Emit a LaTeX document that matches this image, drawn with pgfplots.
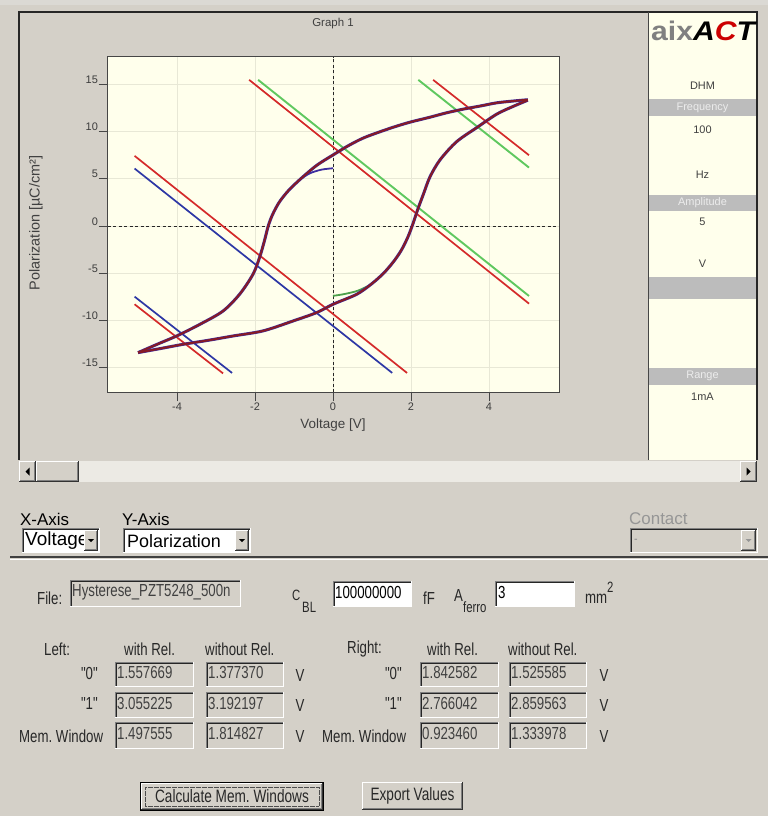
\documentclass[border=0pt]{standalone}
\usepackage{pgfplots}
\usepackage{pgfplotstable}
\pgfplotsset{compat=1.18}
\usepackage{fontspec}
\setmainfont{Liberation Sans}
\newfontfamily\uif[FakeStretch=0.76]{Liberation Sans}
\newfontfamily\uiw{Liberation Sans}
\newfontfamily\logof[FakeStretch=1.12]{Liberation Sans}
\definecolor{winbg}{RGB}{212,208,200}
\definecolor{cream}{RGB}{255,255,236}
\definecolor{gridc}{RGB}{232,232,214}
\definecolor{framec}{RGB}{70,70,70}
\definecolor{tickc}{RGB}{60,60,60}
\definecolor{lred}{RGB}{212,42,42}
\definecolor{lblue}{RGB}{45,55,165}
\definecolor{lgreen}{RGB}{95,200,95}
\definecolor{loopr}{RGB}{135,26,38}
\definecolor{loopb}{RGB}{60,45,160}
\definecolor{bandc}{RGB}{188,188,188}
\definecolor{bandt}{RGB}{236,236,236}
\definecolor{shadow}{RGB}{128,128,128}
\definecolor{dark}{RGB}{64,64,64}
\definecolor{track}{RGB}{236,234,228}
\definecolor{uitext}{RGB}{40,40,40}
\definecolor{distext}{RGB}{150,150,150}
\newcommand\sunken[5]{%
  \fill[#5] (#1,#2) rectangle (#3,#4);
  \draw[shadow,line width=1bp] (#1+0.5,#4) -- (#1+0.5,#2+0.5) -- (#3,#2+0.5);
  \draw[black!85,line width=1bp] (#1+1.5,#4-1) -- (#1+1.5,#2+1.5) -- (#3-1,#2+1.5);
  \draw[white,line width=1bp] (#1,#4-0.5) -- (#3-0.5,#4-0.5) -- (#3-0.5,#2);
}
\newcommand\raised[4]{%
  \fill[winbg] (#1,#2) rectangle (#3,#4);
  \draw[white,line width=1bp] (#1+0.5,#4-1) -- (#1+0.5,#2+0.5) -- (#3-1,#2+0.5);
  \draw[black!80,line width=1bp] (#1,#4-0.5) -- (#3-0.5,#4-0.5) -- (#3-0.5,#2);
  \draw[shadow,line width=1bp] (#1+1,#4-1.5) -- (#3-1.5,#4-1.5) -- (#3-1.5,#2+1);
}
\newcommand\fs[1]{\fontsize{#1}{#1}\selectfont}
\pgfplotstableread{
x y
5.0 13.35
4.6 13.2
4.2 13.02
3.8 12.7
3.34 12.35
2.9 11.95
2.49 11.5
2.0 11.0
1.63 10.55
1.2 9.95
0.78 9.3
0.4 8.5
0.0 7.5
-0.42 6.4
-0.85 4.9
-1.15 3.7
-1.38 2.5
-1.55 1.2
-1.66 0.0
-1.76 -1.6
-1.88 -3.3
-2.05 -5.1
-2.39 -7.2
-2.82 -9.0
-3.41 -10.4
-4.01 -11.64
-4.5 -12.5
-5.0 -13.4
}\upbranch
\pgfplotstableread{
x y
-5.0 -13.4
-4.4 -12.95
-3.84 -12.52
-3.2 -12.1
-2.56 -11.64
-1.79 -11.1
-1.02 -10.05
-0.42 -9.17
0.0 -8.29
0.61 -7.23
1.0 -6.1
1.3 -5.0
1.55 -3.8
1.75 -2.6
1.92 -1.2
2.05 0.2
2.18 1.8
2.32 3.35
2.49 5.2
2.75 7.0
3.17 8.9
3.69 10.4
4.2 11.82
4.6 12.6
5.0 13.3
}\lowbranch
\begin{document}
\begin{tikzpicture}
\fill[winbg] (0,0) rectangle (768bp,-816bp);
\begin{scope}[x=1bp,y=-1bp]
  \fill[black!8!winbg!60!white] (0,0) rectangle (768,5);
  % graph panel
  \fill[cream] (648,12) rectangle (757,460);
  \draw[black!85,line width=1.2bp] (19,460) -- (19,12) -- (757,12) -- (757,460);
  \draw[framec,line width=1bp] (648,12) -- (648,460);
  % right panel bands
  \fill[bandc] (649,99) rectangle (756,116);
  \fill[bandc] (649,195) rectangle (756,211);
  \fill[bandc] (649,277) rectangle (756,299);
  \fill[bandc] (649,368) rectangle (756,385);
  \node[anchor=west,inner sep=0] at (651,31) {\logof\bfseries\fs{27}{\color{gray}aix}\itshape{\color{black}A}{\color{red!80!black}C}{\color{black}T}};
  \node[font=\uiw\fs{11},text=dark] at (702.5,86) {DHM};
  \node[font=\uiw\fs{11},text=bandt] at (702.5,108) {Frequency};
  \node[font=\uiw\fs{11},text=dark] at (702.5,130) {100};
  \node[font=\uiw\fs{11},text=dark] at (702.5,175) {Hz};
  \node[font=\uiw\fs{11},text=bandt] at (702.5,203) {Amplitude};
  \node[font=\uiw\fs{11},text=dark] at (702.5,222) {5};
  \node[font=\uiw\fs{11},text=dark] at (702.5,264) {V};
  \node[font=\uiw\fs{11},text=bandt] at (702.5,376) {Range};
  \node[font=\uiw\fs{11},text=dark] at (702.5,397) {1mA};
  % scrollbar
  \fill[track] (19,461) rectangle (757,482);
  \raised{19}{461}{36}{482}
  \raised{36}{461}{79}{482}
  \raised{740}{461}{757}{482}
  \fill[black] (25.5,471.5) -- (29.5,467.5) -- (29.5,475.5) -- cycle;
  \fill[black] (750.5,471.5) -- (746.5,467.5) -- (746.5,475.5) -- cycle;
  % axis selectors
  \node[anchor=west,inner sep=0,font=\uiw\fs{17},text=black] at (20,519) {X-Axis};
  \node[anchor=west,inner sep=0,font=\uiw\fs{17},text=black] at (122,519) {Y-Axis};
  \sunken{22}{528}{100}{553}{white}
  \node[anchor=west,inner sep=0,font=\uiw\fs{19},text=black] at (25,541) {Voltage};
  \raised{84}{530}{98}{551}
  \fill[black] (88,539) -- (94,539) -- (91,542) -- cycle;
  \sunken{123}{528}{251}{553}{white}
  \node[anchor=west,inner sep=0,font=\uiw\fs{18},text=black] at (127,541) {Polarization};
  \raised{235}{530}{249}{551}
  \fill[black] (239,539) -- (245,539) -- (242,542) -- cycle;
  \node[anchor=west,inner sep=0,font=\uiw\fs{17},text=distext] at (629,519) {Contact};
  \sunken{630}{528}{758}{553}{winbg}
  \node[anchor=west,inner sep=0,font=\uif\fs{14},text=distext] at (634,541) {-};
  \raised{741}{530}{756}{551}
  \fill[distext] (745.5,539) -- (751.5,539) -- (748.5,542) -- cycle;
  % separator
  \draw[black!75,line width=1.5bp] (10,557) -- (768,557);
  \draw[white,line width=1bp] (10,559) -- (768,559);
  % file row
  \node[anchor=west,inner sep=0,font=\uif\fs{17.5},text=uitext] at (37,598) {File:};
  \sunken{70}{580}{241}{607}{winbg}
  \node[anchor=west,inner sep=0,font=\uif\fs{17.5},text=dark] at (72,592) {Hysterese\_PZT5248\_500n};
  \node[anchor=west,inner sep=0,font=\uif\fs{15},text=uitext] at (292,595) {C};
  \node[anchor=west,inner sep=0,font=\uif\fs{15},text=uitext] at (302,607) {BL};
  \sunken{333}{581}{412}{607}{white}
  \node[anchor=west,inner sep=0,font=\uif\fs{17.5},text=black] at (335,592) {100000000};
  \node[anchor=west,inner sep=0,font=\uif\fs{17.5},text=uitext] at (423,598) {fF};
  \node[anchor=west,inner sep=0,font=\uif\fs{17.5},text=uitext] at (454,596) {A};
  \node[anchor=west,inner sep=0,font=\uif\fs{15},text=uitext] at (463,607) {ferro};
  \sunken{495}{581}{575}{607}{white}
  \node[anchor=west,inner sep=0,font=\uif\fs{17.5},text=black] at (498,592) {3};
  \node[anchor=west,inner sep=0,font=\uif\fs{17.5},text=uitext] at (585,599) {mm};
  \node[anchor=west,inner sep=0,font=\uif\fs{15},text=uitext] at (607,587) {2};
  % table header
  \node[anchor=west,inner sep=0,font=\uif\fs{17.5},text=uitext] at (44,649) {Left:};
  \node[anchor=west,inner sep=0,font=\uif\fs{17.5},text=uitext] at (124,649) {with Rel.};
  \node[anchor=west,inner sep=0,font=\uif\fs{17.5},text=uitext] at (205,649) {without Rel.};
  \node[anchor=west,inner sep=0,font=\uif\fs{17.5},text=uitext] at (347,649) {Right:};
  \node[anchor=west,inner sep=0,font=\uif\fs{17.5},text=uitext] at (427,649) {with Rel.};
  \node[anchor=west,inner sep=0,font=\uif\fs{17.5},text=uitext] at (508,649) {without Rel.};
  % rows
  \foreach \ya/\yb/\yc/\lab/\va/\vb/\vc/\vd in {
      661.7/687.3/674.5/{"0"}/1.557669/1.377370/1.842582/1.525585,
      691.7/718.3/705/{"1"}/3.055225/3.192197/2.766042/2.859563,
      722/749/735.5/{}/1.497555/1.814827/0.923460/1.333978}{
    \sunken{115}{\ya}{194}{\yb}{winbg}
    \sunken{206}{\ya}{284}{\yb}{winbg}
    \sunken{420}{\ya}{499}{\yb}{winbg}
    \sunken{509}{\ya}{587}{\yb}{winbg}
    \node[anchor=west,inner sep=0,font=\uif\fs{17.5},text=dark] at (117,\yc-2) {\va};
    \node[anchor=west,inner sep=0,font=\uif\fs{17.5},text=dark] at (208,\yc-2) {\vb};
    \node[anchor=west,inner sep=0,font=\uif\fs{17.5},text=dark] at (422,\yc-2) {\vc};
    \node[anchor=west,inner sep=0,font=\uif\fs{17.5},text=dark] at (511,\yc-2) {\vd};
    \node[font=\uif\fs{17.5},text=uitext] at (300,\yc+1) {V};
    \node[font=\uif\fs{17.5},text=uitext] at (604,\yc+1) {V};
    \node[anchor=east,inner sep=0,font=\uif\fs{17.5},text=uitext] at (98,\yc-1) {\lab};
    \node[anchor=east,inner sep=0,font=\uif\fs{17.5},text=uitext] at (402,\yc-1) {\lab};
  }
  \node[anchor=west,inner sep=0,font=\uif\fs{17.5},text=uitext] at (19,736) {Mem.\ Window};
  \node[anchor=west,inner sep=0,font=\uif\fs{17.5},text=uitext] at (322,736) {Mem.\ Window};
  % buttons
  \fill[black] (140,782) rectangle (324,811);
  \raised{141}{783}{323}{810}
  \draw[black!70,line width=0.6bp,dash pattern=on 0.6bp off 0.6bp] (145,787) rectangle (319,806);
  \node[font=\uif\fs{18},text=uitext] at (232,796) {Calculate Mem.\ Windows};
  \raised{362}{782}{463}{810}
  \node[font=\uif\fs{18},text=uitext] at (412.5,796) {Export Values};
\end{scope}
\begin{axis}[
  at={(107.7bp,-392.3bp)}, anchor=south west,
  scale only axis, width=451.3bp, height=335.6bp,
  xmin=-5.78, xmax=5.80, ymin=-17.6, ymax=17.9,
  axis background/.style={fill=cream},
  axis line style={draw=framec, line width=0.9bp},
  xtick={-4,-2,0,2,4}, ytick={-15,-10,-5,0,5,10,15},
  xtick pos=bottom, ytick pos=left, tick align=outside,
  major tick length=9bp,
  tick style={draw=framec, line width=0.7bp},
  grid=major, major grid style={draw=gridc, line width=0.7bp},
  ticklabel style={font=\uiw\fs{11}, text=tickc},
  yticklabel style={anchor=south east, inner sep=0.6bp},
  xticklabel style={anchor=north, inner sep=1bp},
  /pgf/number format/assume math mode=true,
]
\addplot[black!85, line width=0.8bp, dash pattern=on 3bp off 2.5bp] coordinates {(-5.78,0) (5.8,0)};
\addplot[black!85, line width=0.8bp, dash pattern=on 3bp off 2.5bp] coordinates {(0,-17.6) (0,17.9)};
% straight lines
\addplot[lred, line width=1.7bp] coordinates {(-5.09,-8.29) (-2.82,-15.6)};
\addplot[lblue, line width=1.7bp] coordinates {(-5.09,-7.48) (-2.59,-15.55)};
\addplot[lred, line width=1.7bp] coordinates {(-5.09,7.41) (1.90,-15.55)};
\addplot[lblue, line width=1.7bp] coordinates {(-5.09,6.07) (1.52,-15.55)};
\addplot[lred, line width=1.7bp] coordinates {(-2.15,15.45) (5.03,-8.22)};
\addplot[lgreen, line width=1.9bp] coordinates {(-1.92,15.45) (5.03,-7.41)};
\addplot[lgreen, line width=1.9bp] coordinates {(2.19,15.45) (5.03,6.17)};
\addplot[lred, line width=1.7bp] coordinates {(2.57,15.45) (5.03,7.48)};
% initial branches
\addplot[loopb, line width=1.8bp, smooth] coordinates {(0,6.1) (-0.3,5.95) (-0.6,5.55) (-0.85,4.9)};
\addplot[lgreen!80!black, line width=1.8bp, smooth] coordinates {(0,-7.4) (0.3,-7.2) (0.64,-6.85) (0.95,-6.25)};
% hysteresis loop: blue under, red on top
\addplot[loopb, line width=3bp, smooth, tension=0.5] table[x=x,y=y] {\upbranch};
\addplot[loopb, line width=3bp, smooth, tension=0.5] table[x=x,y=y] {\lowbranch};
\addplot[loopr, line width=2bp, smooth, tension=0.5] table[x=x,y=y] {\upbranch};
\addplot[loopr, line width=2bp, smooth, tension=0.5] table[x=x,y=y] {\lowbranch};
\end{axis}
\begin{scope}[x=1bp,y=-1bp]
  \node[font=\uiw\fs{11.5},text=dark] at (333,24) {Graph 1};
  \node[font=\uiw\fs{13.5},text=dark] at (333,425) {Voltage [V]};
  \node[font=\uiw\fs{14.5},text=dark,rotate=90] at (36,223) {Polarization [µC/cm²]};
\end{scope}
\end{tikzpicture}
\end{document}
